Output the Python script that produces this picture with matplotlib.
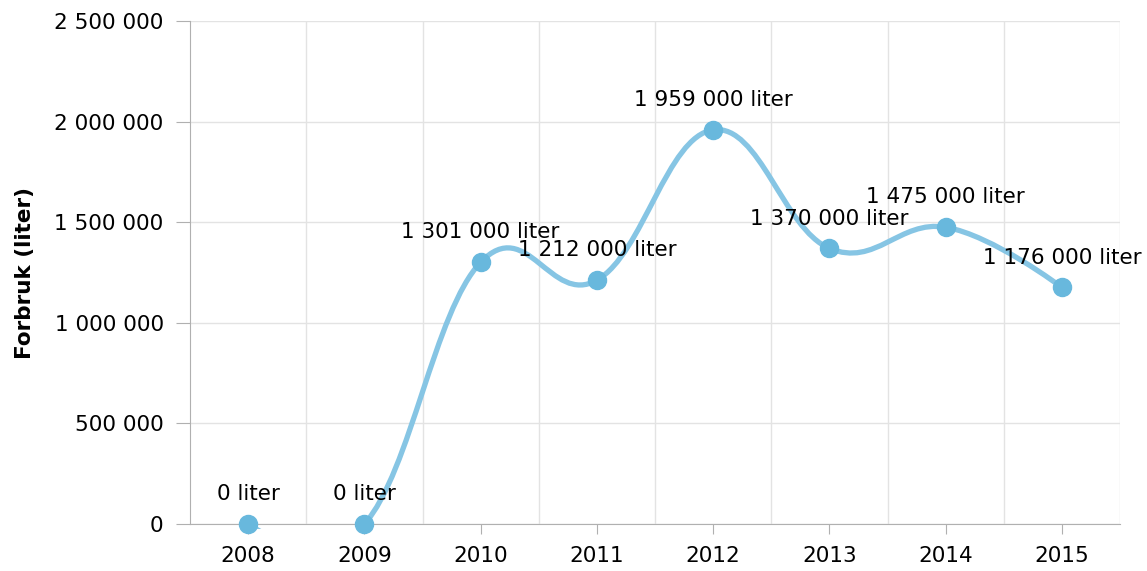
import matplotlib
matplotlib.use("Agg")
import matplotlib.pyplot as plt
from matplotlib.path import Path
from matplotlib.patches import PathPatch, Rectangle
from matplotlib.ticker import FuncFormatter, MultipleLocator

# data
years = [2008, 2009, 2010, 2011, 2012, 2013, 2014, 2015]
forbruk = [0, 0, 1301000, 1212000, 1959000, 1370000, 1475000, 1176000]

line_color = "#86c5e4"
marker_color = "#68b8dd"
grid_color = "#e3e3e3"
axis_color = "#b0b0b0"
fs = 15.5


def fmt(v):
    return f"{int(v):,}".replace(",", " ")


# highcharts-style spline (smoothing 1.5, no overshoot clamp)
def spline_path(xs, ys, smoothing=1.5):
    n = len(xs)
    left = [None] * n
    right = [None] * n
    for i in range(1, n - 1):
        x, y = xs[i], ys[i]
        lx, ly = xs[i - 1], ys[i - 1]
        nx, ny = xs[i + 1], ys[i + 1]
        d = smoothing + 1
        lcx = (smoothing * x + lx) / d
        lcy = (smoothing * y + ly) / d
        rcx = (smoothing * x + nx) / d
        rcy = (smoothing * y + ny) / d
        corr = ((rcy - lcy) * (rcx - x)) / (rcx - lcx) + y - rcy
        left[i] = (lcx, lcy + corr)
        right[i] = (rcx, rcy + corr)
    verts = [(xs[0], ys[0])]
    codes = [Path.MOVETO]
    for i in range(1, n):
        c1 = right[i - 1] or (xs[i - 1], ys[i - 1])
        c2 = left[i] or (xs[i], ys[i])
        verts += [c1, c2, (xs[i], ys[i])]
        codes += [Path.CURVE4] * 3
    return Path(verts, codes)


fig = plt.figure(figsize=(11.47, 5.71), dpi=100)
ax = fig.add_axes([0.1657, 0.0823, 0.8108, 0.8809])

ax.set_xlim(years[0] - 0.5, years[-1] + 0.5)
ax.set_ylim(0, 2500000)

# grid
for b in range(years[0], years[-1] + 1):
    ax.axvline(b + 0.5, color=grid_color, lw=1, zorder=0)
ax.yaxis.set_major_locator(MultipleLocator(500000))
ax.grid(axis="y", color=grid_color, lw=1, zorder=0)
ax.set_axisbelow(True)

for s in ["top", "right"]:
    ax.spines[s].set_visible(False)
ax.spines["left"].set_color(axis_color)
ax.spines["bottom"].set_color(axis_color)

patch = PathPatch(spline_path(years, forbruk), fill=False, edgecolor=line_color,
                  lw=3.8, capstyle="round", joinstyle="round", zorder=2)
ax.add_patch(patch)
# clip a bit below the plot area, like the original
clip = Rectangle((0, -0.01), 1, 1.02, transform=ax.transAxes, fill=False, visible=False)
ax.add_patch(clip)
patch.set_clip_path(clip)

ax.plot(years, forbruk, "o", color=marker_color, markersize=13, zorder=3, clip_on=False)

for x, y in zip(years, forbruk):
    ax.annotate(f"{fmt(y)} liter", (x, y), xytext=(0, 21.5), textcoords="offset points",
                ha="center", va="center", fontsize=fs, color="black", annotation_clip=False,
                zorder=4)

ax.set_xticks(years)
ax.set_xticklabels([str(y) for y in years])
ax.yaxis.set_major_formatter(FuncFormatter(lambda v, p: fmt(v)))
ax.tick_params(axis="x", colors=axis_color, length=7, labelcolor="black", labelsize=fs, pad=9)
ax.tick_params(axis="y", colors=axis_color, length=10, labelcolor="black", labelsize=fs, pad=9)

ax.set_ylabel("Forbruk (liter)", fontsize=fs, fontweight="bold", labelpad=14)

fig.savefig("out.png", dpi=100)
